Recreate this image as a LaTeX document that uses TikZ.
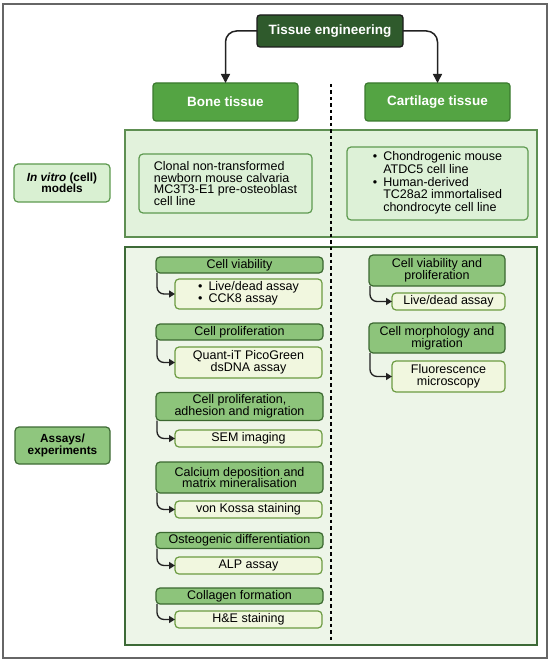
\documentclass[tikz,border=0pt]{standalone}
\usepackage{fontspec}
\setmainfont{Liberation Sans}
\usetikzlibrary{arrows.meta}
\definecolor{tedark}{HTML}{2F5A2C}
\definecolor{teborder}{HTML}{1C1C1C}
\definecolor{tissuegreen}{HTML}{54A443}
\definecolor{tissueborder}{HTML}{3B7A2F}
\definecolor{panelAfill}{HTML}{E2F2DC}
\definecolor{panelAdraw}{HTML}{5E8F52}
\definecolor{panelBfill}{HTML}{EDF5E8}
\definecolor{panelBdraw}{HTML}{3D6A37}
\definecolor{labelAfill}{HTML}{D9F0D2}
\definecolor{labelAdraw}{HTML}{5E9A50}
\definecolor{labelBfill}{HTML}{8FC67E}
\definecolor{labelBdraw}{HTML}{3E6B35}
\definecolor{cellfill}{HTML}{DDF1D7}
\definecolor{celldraw}{HTML}{5E9A50}
\definecolor{headfill}{HTML}{8DC47B}
\definecolor{headdraw}{HTML}{3B6830}
\definecolor{subfill}{HTML}{F1F7DF}
\definecolor{subdraw}{HTML}{6C9B42}
\definecolor{framegray}{HTML}{666666}
\definecolor{linedark}{HTML}{222222}
\tikzset{
  basebox/.style={rectangle, inner sep=0pt, outer sep=0pt, align=center},
  tebox/.style={basebox, fill=tedark, draw=teborder, line width=1.3pt, rounded corners=3pt,
    text=white, font=\fontsize{13.5}{14}\selectfont\bfseries, minimum width=146pt, minimum height=32pt},
  tissuebox/.style={basebox, fill=tissuegreen, draw=tissueborder, line width=1.2pt, rounded corners=3pt,
    text=white, font=\fontsize{13.5}{14}\selectfont\bfseries, minimum width=145pt, minimum height=38pt},
  panelA/.style={basebox, fill=panelAfill, draw=panelAdraw, line width=1.2pt},
  panelB/.style={basebox, fill=panelBfill, draw=panelBdraw, line width=1.5pt},
  labelA/.style={basebox, fill=labelAfill, draw=labelAdraw, line width=1.2pt, rounded corners=4pt,
    font=\fontsize{11.8}{11.5}\selectfont\bfseries},
  labelB/.style={basebox, fill=labelBfill, draw=labelBdraw, line width=1.2pt, rounded corners=4pt,
    font=\fontsize{11.8}{11.5}\selectfont\bfseries},
  cellbox/.style={basebox, fill=cellfill, draw=celldraw, line width=1.2pt, rounded corners=4pt,
    font=\fontsize{12.5}{11.9}\selectfont},
  headbox/.style={basebox, fill=headfill, draw=headdraw, line width=1.2pt, rounded corners=4pt,
    font=\fontsize{12.5}{11.9}\selectfont},
  subbox/.style={basebox, fill=subfill, draw=subdraw, line width=1.2pt, rounded corners=4pt,
    font=\fontsize{12.5}{11.9}\selectfont},
  toparrow/.style={draw=linedark, line width=1.5pt, rounded corners=11pt,
    -{Triangle[length=9pt,width=9pt]}},
  subarrow/.style={draw=linedark, line width=1.3pt, rounded corners=7pt,
    -{Triangle[length=6pt,width=7pt]}},
  divider/.style={draw=black, line width=2pt, dash pattern=on 3.5pt off 3pt},
  framebox/.style={draw=framegray, line width=1.3pt}
}
\begin{document}
\begin{tikzpicture}[x=1pt,y=-1pt]
\useasboundingbox (0,0) rectangle (550,663);
\fill[white] (0,0) rectangle (550,663);
\draw[framebox] (3,4) rectangle (547,658);

% panels
\node[panelA, minimum width=412pt, minimum height=107pt] (pvitro) at (331,183.5) {};
\node[panelB, minimum width=412pt, minimum height=398pt] (passay) at (331,446) {};

% top
\node[tebox] (te) at (330,31) {Tissue engineering};
\node[tissuebox] (bone) at (225.5,102) {Bone tissue};
\node[tissuebox] (cart) at (437.5,102) {Cartilage tissue};
\draw[toparrow] (te.west) -| (bone.north);
\draw[toparrow] (te.east) -| (cart.north);

% side labels
\node[labelA, minimum width=96pt, minimum height=38pt] (lvitro) at (62,183) {\textit{In vitro} (cell)\\models};
\node[labelB, minimum width=95pt, minimum height=37pt] (lassay) at (62.5,445.5) {Assays/\\experiments};

% cell models
\node[cellbox, minimum width=173pt, minimum height=59pt, align=left] (clonal) at (225.5,183.5)
  {Clonal non-transformed\\newborn mouse calvaria\\MC3T3-E1 pre-osteoblast\\cell line};
\node[cellbox, minimum width=181pt, minimum height=73pt] (chondro) at (437.5,183.5)
  {\begin{tabular}{@{}l@{\hspace{6pt}}l@{}}
   \textbullet & Chondrogenic mouse\\
               & ATDC5 cell line\\
   \textbullet & Human-derived\\
               & TC28a2 immortalised\\
               & chondrocyte cell line
   \end{tabular}};

% bone assays
\node[headbox, minimum width=167pt, minimum height=16pt] (h1) at (239.5,265) {Cell viability};
\node[subbox, minimum width=147pt, minimum height=30pt] (s1) at (248.5,294)
  {\begin{tabular}{@{}l@{\hspace{6pt}}l@{}}
   \textbullet & Live/dead assay\\
   \textbullet & CCK8 assay
   \end{tabular}};
\node[headbox, minimum width=167pt, minimum height=16pt] (h2) at (239.5,332) {Cell proliferation};
\node[subbox, minimum width=147pt, minimum height=31pt] (s2) at (248.5,362.5) {Quant-iT PicoGreen\\dsDNA assay};
\node[headbox, minimum width=167pt, minimum height=28pt] (h3) at (239.5,406.5) {Cell proliferation,\\adhesion and migration};
\node[subbox, minimum width=147pt, minimum height=17pt] (s3) at (248.5,438.5) {SEM imaging};
\node[headbox, minimum width=167pt, minimum height=31pt] (h4) at (239.5,477.5) {Calcium deposition and\\matrix mineralisation};
\node[subbox, minimum width=147pt, minimum height=17pt] (s4) at (248.5,509.5) {von Kossa staining};
\node[headbox, minimum width=167pt, minimum height=16pt] (h5) at (239.5,540.5) {Osteogenic differentiation};
\node[subbox, minimum width=147pt, minimum height=17pt] (s5) at (248.5,565.5) {ALP assay};
\node[headbox, minimum width=167pt, minimum height=16pt] (h6) at (239.5,596) {Collagen formation};
\node[subbox, minimum width=147pt, minimum height=17pt] (s6) at (248.5,619.5) {H\&E staining};

% cartilage assays
\node[headbox, minimum width=136pt, minimum height=31pt] (hc1) at (437,270.5) {Cell viability and\\proliferation};
\node[subbox, minimum width=113pt, minimum height=17pt] (sc1) at (448.5,301.5) {Live/dead assay};
\node[headbox, minimum width=136pt, minimum height=30pt] (hc2) at (437,338) {Cell morphology and\\migration};
\node[subbox, minimum width=113pt, minimum height=31pt] (sc2) at (448.5,376.5) {Fluorescence\\microscopy};

% connectors
\foreach \h/\s in {h1/s1,h2/s2,h3/s3,h4/s4,h5/s5,h6/s6,hc1/sc1,hc2/sc2}{
  \draw[subarrow] ([xshift=1pt]\h.south west) |- (\s.west);
}

% divider
\coordinate (dtop) at (331,84);
\coordinate (dbot) at (331,642);
\draw[divider] (dtop) -- (dbot);
\end{tikzpicture}
\end{document}
